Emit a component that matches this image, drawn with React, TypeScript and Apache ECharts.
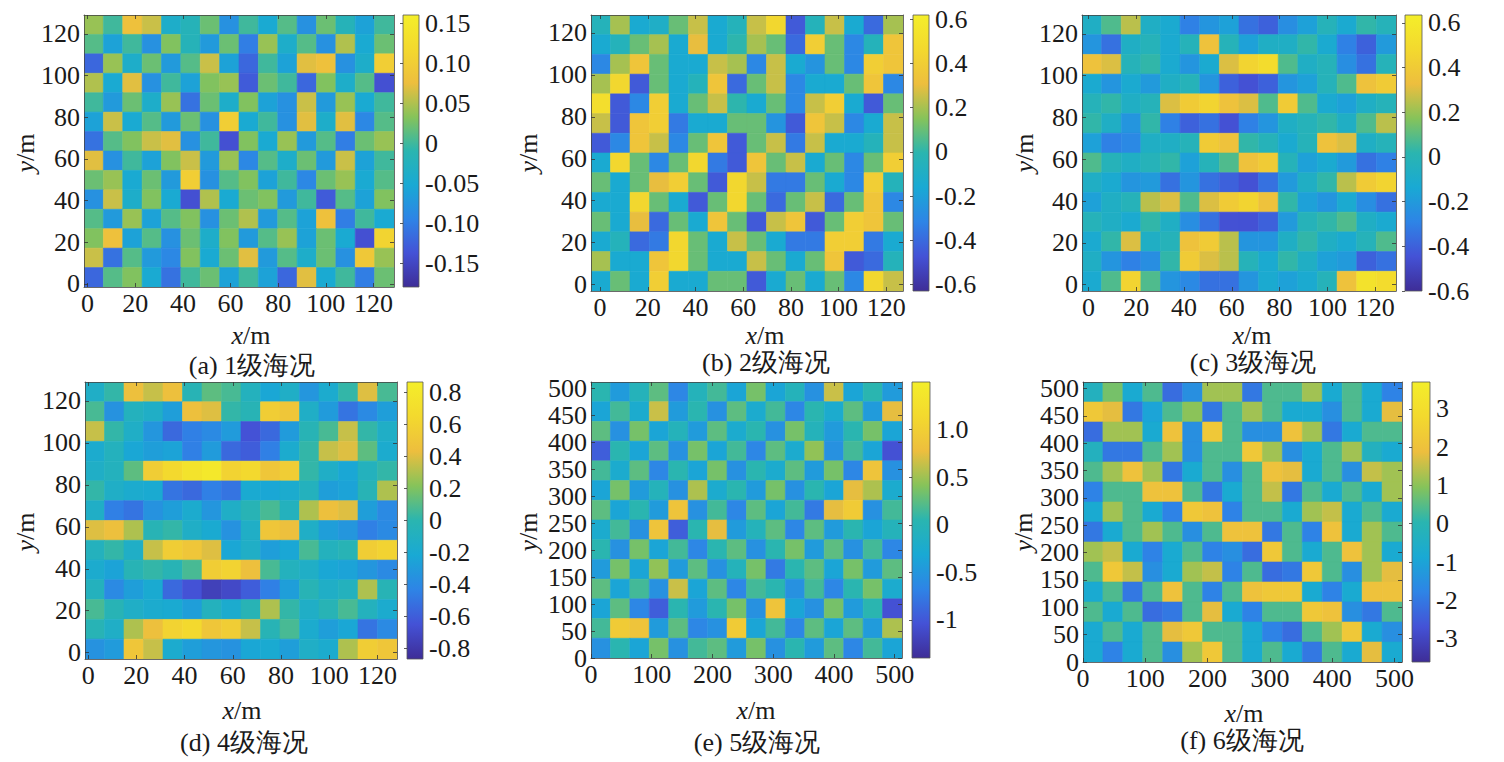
import React, { useRef, useEffect } from 'react';
import * as echarts from 'echarts';

// 波面高程 (m)，按 16 列 × 14 行从图中估读，第一行对应图的最上方
const seaA = [
  [0.04, 0.00, 0.08, 0.06, -0.04, -0.02, 0.02, -0.08, 0.00, -0.05, 0.01, -0.08, 0.02, -0.02, -0.06, 0.00],
  [0.01, -0.06, 0.00, -0.08, 0.03, -0.02, -0.07, 0.02, -0.10, 0.04, -0.04, 0.01, -0.08, 0.05, -0.05, 0.02],
  [-0.12, 0.04, -0.04, 0.02, -0.07, 0.01, 0.06, -0.06, -0.12, 0.00, -0.06, 0.07, 0.08, -0.08, -0.04, 0.10],
  [0.05, -0.05, 0.07, -0.08, 0.00, -0.06, 0.03, 0.04, -0.13, 0.02, 0.00, -0.12, 0.03, -0.04, 0.01, -0.14],
  [0.00, -0.07, 0.02, -0.04, 0.04, -0.11, 0.02, -0.04, 0.03, -0.06, -0.08, 0.06, -0.07, 0.04, -0.05, 0.00],
  [-0.06, 0.06, -0.05, 0.01, -0.07, 0.02, -0.08, 0.10, -0.05, 0.00, -0.08, 0.07, -0.04, 0.07, -0.09, 0.01],
  [-0.11, 0.01, 0.03, 0.06, 0.07, -0.08, 0.00, -0.14, 0.03, -0.05, 0.04, -0.07, 0.01, -0.10, 0.02, 0.04],
  [0.07, -0.08, 0.00, -0.06, 0.03, 0.06, -0.07, 0.04, -0.09, 0.01, -0.04, 0.02, -0.07, 0.06, -0.06, 0.00],
  [0.02, 0.04, -0.05, 0.02, -0.07, 0.10, -0.08, 0.01, 0.03, -0.06, 0.00, -0.09, 0.02, 0.04, -0.05, 0.01],
  [-0.08, 0.06, -0.04, 0.03, -0.05, -0.14, 0.05, -0.05, 0.02, 0.03, -0.07, 0.00, -0.13, 0.01, -0.06, 0.03],
  [0.01, -0.07, 0.04, -0.06, 0.01, 0.03, -0.08, 0.02, 0.05, -0.07, 0.01, -0.06, 0.08, -0.10, 0.00, -0.05],
  [0.03, 0.08, -0.06, 0.01, -0.08, 0.02, -0.04, 0.03, -0.07, 0.01, 0.04, -0.06, 0.02, -0.05, -0.14, 0.11],
  [0.06, -0.11, 0.01, -0.07, -0.09, 0.03, -0.05, 0.02, 0.07, -0.07, 0.01, -0.04, 0.02, -0.08, 0.09, 0.04],
  [-0.12, 0.01, 0.03, -0.05, -0.11, 0.00, 0.02, -0.06, 0.00, -0.06, -0.12, 0.07, -0.05, 0.00, -0.10, 0.02],
];

const seaB = [
  [-0.05, 0.20, -0.15, -0.10, 0.10, 0.25, -0.15, -0.05, 0.25, 0.45, -0.45, -0.05, 0.25, -0.15, -0.40, 0.20],
  [-0.15, -0.05, 0.10, 0.20, -0.15, 0.30, -0.15, 0.00, 0.20, 0.10, -0.40, 0.40, 0.10, -0.30, -0.05, 0.35],
  [-0.30, 0.20, 0.35, 0.10, -0.15, -0.15, 0.25, 0.20, -0.30, 0.25, -0.15, -0.25, 0.10, -0.30, 0.40, 0.35],
  [0.20, 0.45, -0.45, 0.10, -0.15, -0.05, 0.35, -0.40, 0.10, 0.25, -0.30, -0.15, -0.15, 0.10, 0.35, -0.30],
  [0.50, -0.45, -0.30, 0.40, -0.15, 0.10, 0.25, 0.00, -0.15, 0.10, -0.30, 0.25, 0.40, -0.15, -0.45, 0.10],
  [0.25, -0.45, 0.35, 0.40, -0.35, -0.15, -0.15, 0.10, 0.10, -0.25, -0.45, 0.35, 0.25, -0.30, -0.15, 0.25],
  [-0.45, -0.30, 0.35, 0.25, -0.30, 0.10, 0.35, -0.45, 0.10, 0.25, -0.35, 0.25, -0.15, -0.15, -0.05, 0.25],
  [-0.15, 0.45, 0.10, -0.30, 0.10, 0.45, -0.35, -0.45, 0.35, 0.10, 0.25, -0.15, 0.10, -0.30, 0.10, 0.40],
  [0.10, -0.15, 0.10, 0.30, 0.40, 0.10, -0.45, 0.45, 0.25, -0.35, -0.35, 0.10, -0.15, -0.30, 0.40, -0.05],
  [-0.15, -0.15, 0.45, 0.10, -0.15, -0.45, 0.10, 0.45, 0.10, -0.40, 0.10, 0.25, -0.40, 0.10, 0.35, -0.30],
  [0.10, -0.15, 0.30, -0.40, 0.10, -0.15, 0.35, 0.10, -0.45, 0.25, 0.35, -0.45, 0.10, 0.40, 0.35, 0.10],
  [-0.15, -0.05, -0.40, -0.35, 0.45, 0.10, -0.15, 0.25, 0.10, -0.15, -0.35, -0.35, 0.40, 0.40, -0.35, -0.15],
  [0.20, -0.15, -0.15, 0.35, 0.45, 0.10, -0.15, -0.15, 0.25, 0.10, -0.15, 0.10, 0.35, -0.45, -0.40, -0.05],
  [-0.15, 0.10, -0.15, 0.40, -0.15, -0.15, 0.10, 0.10, -0.45, -0.15, 0.10, -0.15, 0.10, -0.30, 0.45, 0.25],
];

const seaC = [
  [-0.07, 0.08, 0.25, -0.07, -0.12, -0.30, -0.22, -0.17, -0.35, -0.40, -0.25, -0.17, -0.02, -0.12, 0.03, -0.02],
  [-0.22, -0.35, -0.07, -0.02, -0.12, -0.02, 0.35, -0.02, -0.17, -0.07, -0.07, 0.03, -0.12, -0.30, -0.40, -0.20],
  [0.35, 0.30, -0.02, 0.03, -0.12, -0.22, -0.12, 0.30, 0.45, 0.50, 0.08, -0.07, -0.02, -0.25, -0.35, -0.02],
  [-0.12, -0.22, -0.12, -0.20, -0.07, -0.02, -0.22, -0.40, -0.45, -0.40, -0.22, -0.17, -0.02, 0.08, 0.35, 0.40],
  [-0.02, 0.03, -0.07, -0.02, 0.30, 0.40, 0.45, 0.35, 0.30, 0.08, 0.40, 0.08, -0.12, -0.17, -0.07, -0.02],
  [0.03, -0.07, -0.22, 0.03, -0.30, -0.40, -0.35, -0.45, -0.30, -0.22, -0.07, -0.02, 0.03, -0.07, 0.08, 0.25],
  [-0.17, -0.30, -0.27, -0.07, -0.07, -0.02, 0.40, 0.35, 0.03, -0.02, -0.12, -0.02, 0.35, 0.30, -0.07, -0.02],
  [0.08, -0.02, -0.07, -0.02, 0.03, -0.17, -0.02, 0.08, 0.35, 0.40, -0.02, -0.17, -0.12, -0.20, -0.35, -0.30],
  [-0.07, -0.12, -0.22, -0.20, -0.35, -0.22, -0.35, -0.40, -0.45, -0.35, -0.20, -0.07, 0.03, 0.25, 0.40, 0.45],
  [-0.17, -0.07, -0.02, 0.25, 0.30, 0.08, 0.30, 0.40, 0.45, 0.35, 0.03, -0.17, -0.22, -0.12, -0.25, -0.35],
  [-0.02, -0.07, -0.12, 0.03, -0.07, -0.25, -0.35, -0.45, -0.45, -0.40, -0.20, -0.02, 0.03, 0.08, -0.07, -0.12],
  [-0.12, 0.03, 0.30, -0.07, -0.02, 0.35, 0.40, 0.25, -0.22, -0.22, -0.07, 0.03, -0.07, -0.12, -0.02, 0.08],
  [-0.07, -0.22, -0.30, -0.25, 0.03, 0.40, 0.30, 0.25, -0.02, -0.12, 0.03, -0.07, -0.17, -0.20, -0.40, -0.35],
  [-0.12, 0.08, 0.45, 0.08, -0.22, -0.27, -0.35, -0.35, -0.22, -0.12, -0.17, -0.12, -0.02, 0.35, 0.55, 0.50],
];

const seaD = [
  [-0.13, 0.02, 0.45, 0.35, 0.45, -0.03, 0.12, 0.07, -0.08, -0.23, -0.13, -0.33, -0.18, 0.02, 0.40, 0.07],
  [0.07, -0.35, -0.08, -0.13, -0.28, 0.45, 0.40, 0.02, -0.03, 0.55, 0.50, -0.13, -0.30, -0.50, -0.40, -0.28],
  [0.35, 0.02, -0.13, -0.33, -0.55, -0.45, -0.40, -0.30, -0.65, -0.55, -0.30, -0.03, 0.07, 0.35, 0.02, -0.13],
  [-0.18, -0.08, -0.23, -0.28, -0.25, -0.45, -0.30, -0.55, -0.60, -0.45, -0.18, 0.02, 0.35, 0.40, 0.12, -0.18],
  [-0.13, -0.08, 0.12, 0.55, 0.65, 0.75, 0.80, 0.60, 0.65, 0.50, 0.55, 0.02, -0.13, -0.23, -0.08, 0.02],
  [0.02, -0.13, -0.18, -0.20, -0.50, -0.55, -0.45, -0.50, -0.20, -0.23, -0.18, -0.08, -0.28, -0.25, -0.03, 0.30],
  [-0.13, -0.45, -0.50, -0.35, -0.28, -0.18, -0.33, -0.13, -0.03, 0.07, -0.08, 0.30, 0.45, 0.40, -0.28, -0.40],
  [0.40, 0.45, 0.30, -0.03, 0.02, -0.13, -0.20, -0.35, -0.13, 0.50, 0.45, -0.13, -0.28, -0.33, -0.45, -0.40],
  [-0.08, 0.02, -0.13, 0.35, 0.55, 0.50, 0.40, -0.23, -0.13, -0.28, -0.23, 0.07, -0.08, -0.03, 0.55, 0.60],
  [-0.18, -0.25, -0.03, 0.02, -0.03, 0.07, 0.55, 0.60, 0.45, 0.07, -0.08, -0.13, -0.23, -0.25, -0.33, -0.40],
  [-0.08, -0.40, -0.28, -0.20, -0.55, -0.65, -0.75, -0.70, -0.60, -0.45, -0.28, -0.03, -0.13, -0.08, 0.30, -0.03],
  [0.07, -0.03, -0.13, -0.18, -0.20, -0.28, -0.08, -0.18, -0.03, 0.30, 0.02, -0.13, -0.03, 0.07, -0.08, -0.18],
  [-0.03, -0.13, 0.30, 0.45, 0.60, 0.65, 0.50, 0.55, 0.35, -0.03, 0.07, -0.18, -0.28, -0.23, -0.50, -0.40],
  [-0.35, -0.30, 0.50, 0.35, -0.18, -0.28, -0.33, -0.35, -0.23, -0.20, -0.28, -0.13, -0.18, 0.30, 0.55, 0.50],
];

const seaE = [
  [0.05, -0.45, -0.05, 0.25, -0.65, -0.05, 0.15, -0.35, 0.35, -0.35, -0.05, -0.55, 0.65, -0.35, 0.05, -0.45],
  [-0.35, 0.15, -0.25, 0.65, -0.45, 0.05, -0.55, 0.25, -0.25, 0.15, -0.65, 0.05, -0.25, 0.25, -0.45, 0.75],
  [0.25, -0.55, 0.35, -0.35, -0.05, -0.45, 0.25, -0.25, 0.05, -0.55, 0.35, -0.05, -0.45, 0.05, 0.35, -0.35],
  [-0.95, 0.05, -0.35, 0.25, -0.55, 0.35, -0.35, 0.15, -0.65, 0.25, -0.25, 0.45, -0.55, 0.15, -0.35, -1.05],
  [0.15, -0.25, 0.25, -0.65, 0.05, -0.35, 0.35, -0.55, 0.05, -0.25, 0.25, -0.45, 0.35, -0.65, 0.85, -0.55],
  [-0.35, 0.35, -0.45, -0.05, -0.55, 0.55, -0.25, 0.05, -0.45, 0.35, -0.55, 0.05, -0.35, 0.75, 0.55, -0.25],
  [0.25, -0.35, 0.05, -0.45, 0.85, -0.55, 0.15, -0.65, 0.25, -0.35, 0.15, -0.75, 0.75, 0.95, -0.55, 0.15],
  [-0.25, 0.15, -0.55, 0.85, -0.95, 0.05, 0.75, -0.45, -0.05, 0.25, -0.65, 0.25, -0.45, 0.05, -0.35, -0.05],
  [0.05, -0.55, 0.35, -0.35, 0.15, -0.65, 0.05, 0.25, -0.55, 0.05, 0.35, -0.45, 0.25, -0.55, 0.15, -0.65],
  [-0.45, 0.35, -0.35, 0.45, -0.45, 0.25, -0.55, -0.05, 0.35, -0.75, 0.05, 0.25, -0.35, 0.35, -0.45, 0.25],
  [0.25, -0.35, 0.15, -0.55, 0.65, -0.35, 0.25, -0.65, 0.15, 0.05, -0.55, 0.15, -0.65, 0.05, 0.35, -0.25],
  [-0.35, 0.25, -0.65, -0.95, 0.05, -0.45, 0.05, 0.35, -0.55, 0.85, -0.35, -0.55, 0.35, -0.45, 0.05, -1.05],
  [0.15, 0.95, 0.85, -0.45, 0.25, -0.65, -0.55, 0.95, -0.35, 0.15, -0.65, 0.25, -0.35, 0.25, -0.45, 0.55],
  [-0.55, 0.05, -0.35, 0.35, -0.55, 0.15, 0.25, -0.45, 0.35, -0.55, 0.05, -0.45, 0.25, -0.65, 0.15, -0.35],
];

const seaF = [
  [-0.3, 0.8, -0.8, 0.4, -2.2, -1.5, 1.2, 1.2, -2.0, 0.4, 0.4, 1.2, -0.8, 0.4, -0.8, -1.8],
  [2.2, 1.8, -2.0, -1.0, 0.4, 1.0, -2.0, 0.4, 1.2, 0.4, -0.8, -0.8, -1.5, 0.4, -0.8, 1.8],
  [-2.2, 1.2, 1.2, -0.8, 2.0, -1.5, 2.2, 0.4, -1.5, -1.5, 2.0, 1.2, -2.0, -0.8, 0.4, 0.4],
  [-0.3, -2.0, -2.0, 0.4, 1.2, -1.5, 0.4, 0.4, 2.2, 1.2, -1.5, -0.8, 0.4, 1.2, -0.3, -0.8],
  [0.4, 1.2, 2.0, 1.2, -2.0, -0.8, 0.4, -1.5, 0.4, 2.0, 1.8, -0.8, 0.4, -1.5, 1.5, 1.2],
  [-1.8, 0.4, 0.4, 2.0, 2.0, 0.4, -2.0, -0.8, 0.4, 1.5, -2.0, 0.4, -0.8, 0.4, -0.8, 1.2],
  [-0.8, 1.2, 0.4, -0.8, -1.8, 2.2, 2.0, -1.8, 0.4, 0.4, -0.8, 1.2, 1.5, -0.8, 0.4, -0.8],
  [-2.0, -0.8, 0.4, 1.2, 0.4, -1.5, 0.4, 2.0, 2.0, -2.0, 0.4, -1.8, 2.0, -0.8, 1.2, 0.4],
  [1.2, 1.5, -0.8, -1.8, -0.8, 0.4, -1.8, -1.5, -2.2, 2.2, 0.4, -0.8, 0.4, 2.0, 1.2, -0.8],
  [0.4, 2.2, 1.5, -1.5, -0.8, 1.2, 1.5, -1.8, 0.4, -2.2, -2.0, 2.2, 0.4, -1.5, 1.2, 1.8],
  [-0.8, 0.4, -2.0, 0.4, 2.0, 0.4, -1.8, 0.4, 2.0, 2.2, 2.2, -0.8, -1.8, -0.8, 2.0, 2.0],
  [0.4, -0.8, 0.4, -2.2, -2.0, 0.4, 1.8, -0.8, -1.8, 0.4, 0.4, 2.2, 2.0, -1.5, -2.0, 0.4],
  [-0.8, 0.4, -0.8, 0.4, 1.8, 2.2, 0.4, 0.4, -0.8, -1.8, -2.2, 0.4, 1.2, 2.2, -0.8, -1.5],
  [-0.8, -1.8, -0.8, 0.4, -1.5, 1.2, 2.2, 0.4, -0.8, 0.4, -0.8, -2.0, 0.4, -0.8, 1.8, -0.8],
];

const captions = ['(a) 1级海况', '(b) 2级海况', '(c) 3级海况', '(d) 4级海况', '(e) 5级海况', '(f) 6级海况'];

// 坐标轴刻度
const ticks128 = [0, 20, 40, 60, 80, 100, 120];
const ticks512x = [0, 100, 200, 300, 400, 500];
const ticks512y = [0, 50, 100, 150, 200, 250, 300, 350, 400, 450, 500];

// 色标刻度及其文字
const barTicksA = [-0.15, -0.1, -0.05, 0, 0.05, 0.1, 0.15];
const barLabelsA = ['-0.15', '-0.10', '-0.05', '0', '0.05', '0.10', '0.15'];
const barTicksB = [-0.6, -0.4, -0.2, 0, 0.2, 0.4, 0.6];
const barLabelsB = ['-0.6', '-0.4', '-0.2', '0', '0.2', '0.4', '0.6'];
const barTicksD = [-0.8, -0.6, -0.4, -0.2, 0, 0.2, 0.4, 0.6, 0.8];
const barLabelsD = ['-0.8', '-0.6', '-0.4', '-0.2', '0', '0.2', '0.4', '0.6', '0.8'];
const barTicksE = [-1, -0.5, 0, 0.5, 1];
const barLabelsE = ['-1', '-0.5', '0', '0.5', '1.0'];
const barTicksF = [-3, -2, -1, 0, 1, 2, 3];
const barLabelsF = ['-3', '-2', '-1', '0', '1', '2', '3'];

const parula = ['#3E2D97', '#4452D6', '#2E84E6', '#19A9D4', '#2AB5B0', '#86C35A', '#EDBE3E', '#F3D92E', '#F4EE2A'];
const serif = 'Times New Roman, Liberation Serif, DejaVu Serif, serif';
const ink = '#1a1a1a';
const FS = 26;

const panels = [
  { field: seaA, xr: [-1.5, 128.6], yr: [-1.5, 129], xt: ticks128, yt: ticks128, bar: [-0.18, 0.16], bt: barTicksA, bl: barLabelsA,
    plot: [84, 15, 310, 272], cb: [403, 16], xName: [251, 335], yName: [25, 153], cap: [252, 365] },
  { field: seaB, xr: [-3.8, 127], yr: [-3, 128.5], xt: ticks128, yt: ticks128, bar: [-0.63, 0.62], bt: barTicksB, bl: barLabelsB,
    plot: [591, 15, 312, 276], cb: [913, 16], xName: [765, 335], yName: [528, 153], cap: [766, 362] },
  { field: seaC, xr: [-2.7, 128.7], yr: [-3, 129], xt: ticks128, yt: ticks128, bar: [-0.6, 0.635], bt: barTicksB, bl: barLabelsB,
    plot: [1082, 15, 314, 276], cb: [1405, 17], xName: [1252, 335], yName: [1024, 153], cap: [1253, 362] },
  { field: seaD, xr: [-1.3, 128.1], yr: [-3, 129], xt: ticks128, yt: ticks128, bar: [-0.865, 0.865], bt: barTicksD, bl: barLabelsD,
    plot: [85, 382, 312, 277], cb: [407, 16], xName: [242, 710], yName: [25, 532], cap: [244, 742] },
  { field: seaE, xr: [0, 512], yr: [0, 512], xt: ticks512x, yt: ticks512y, bar: [-1.4, 1.5], bt: barTicksE, bl: barLabelsE,
    plot: [591, 382, 311, 276], cb: [912, 18], xName: [756, 710], yName: [528, 532], cap: [757, 742] },
  { field: seaF, xr: [0, 512], yr: [0, 512], xt: ticks512x, yt: ticks512y, bar: [-3.61, 3.7], bt: barTicksF, bl: barLabelsF,
    plot: [1083, 382, 319, 280], cb: [1412, 18], xName: [1244, 713], yName: [1023, 532], cap: [1242, 740] },
];

function toCells(field: number[][], xr: number[], yr: number[]) {
  const rows = field.length;
  const cols = field[0].length;
  const dx = (xr[1] - xr[0]) / cols;
  const dy = (yr[1] - yr[0]) / rows;
  const data: number[][] = [];
  field.forEach((row, r) =>
    row.forEach((v, c) => data.push([xr[0] + (c + 0.5) * dx, yr[1] - (r + 0.5) * dy, v]))
  );
  return { data, dx, dy };
}

function buildOption() {
  const grid: any[] = [];
  const xAxis: any[] = [];
  const yAxis: any[] = [];
  const series: any[] = [];
  const visualMap: any[] = [];
  const graphic: any[] = [];

  const tickStyle = { color: '#333', width: 0.8 };
  const lineStyle = { color: '#444', width: 0.8 };
  const labelStyle = { color: ink, fontSize: FS, fontFamily: serif };
  const gradient = new echarts.graphic.LinearGradient(
    0, 1, 0, 0,
    parula.map((c, k) => ({ offset: k / (parula.length - 1), color: c }))
  );

  panels.forEach((p, i) => {
    const [left, top, width, height] = p.plot;
    grid.push({ left, top, width, height });
    grid.push({ left: p.cb[0], top, width: p.cb[1], height });

    const gPlot = 2 * i;
    const gBar = 2 * i + 1;
    const axisBase = (gridIndex: number, r: number[], ticks: number[]) => ({
      type: 'value', gridIndex, min: r[0], max: r[1], z: 10,
      splitLine: { show: false },
      axisLine: { show: true, onZero: false, lineStyle },
      axisTick: { show: true, inside: true, length: 4, lineStyle: tickStyle, customValues: ticks },
    });

    xAxis.push({
      ...axisBase(gPlot, p.xr, p.xt), position: 'bottom',
      axisLabel: { ...labelStyle, margin: 3, customValues: p.xt },
    });
    xAxis.push({ ...axisBase(gPlot, p.xr, p.xt), position: 'top', axisLabel: { show: false } });
    xAxis.push({ type: 'value', gridIndex: gBar, min: 0, max: 1, show: false });

    yAxis.push({
      ...axisBase(gPlot, p.yr, p.yt), position: 'left',
      axisLabel: { ...labelStyle, margin: 4, customValues: p.yt },
    });
    yAxis.push({ ...axisBase(gPlot, p.yr, p.yt), position: 'right', axisLabel: { show: false } });
    yAxis.push({
      type: 'value', gridIndex: gBar, min: p.bar[0], max: p.bar[1], position: 'right', z: 10,
      splitLine: { show: false },
      axisLine: { show: false },
      axisTick: { show: true, inside: true, length: 3, lineStyle: tickStyle, customValues: p.bt },
      axisLabel: {
        ...labelStyle, margin: 6, customValues: p.bt,
        formatter: (v: number) => {
          const k = p.bt.findIndex((t) => Math.abs(t - v) < 1e-9);
          return k >= 0 ? p.bl[k] : '';
        },
      },
    });

    const cells = toCells(p.field, p.xr, p.yr);
    series.push({
      type: 'custom',
      xAxisIndex: 3 * i,
      yAxisIndex: 3 * i,
      clip: true,
      dimensions: ['x', 'y', 'eta'],
      encode: { x: 0, y: 1 },
      data: cells.data,
      renderItem: (_params: any, api: any) => {
        const c = api.coord([api.value(0), api.value(1)]);
        const s = api.size([cells.dx, cells.dy]);
        const color = api.visual('color');
        return {
          type: 'rect',
          shape: { x: c[0] - s[0] / 2, y: c[1] - s[1] / 2, width: s[0], height: s[1] },
          style: { fill: color, stroke: color, lineWidth: 0.6 },
        };
      },
    });
    series.push({
      type: 'custom',
      xAxisIndex: 3 * i + 2,
      yAxisIndex: 3 * i + 2,
      clip: false,
      data: [[0, p.bar[0], 1, p.bar[1]]],
      renderItem: (_params: any, api: any) => {
        const a = api.coord([api.value(0), api.value(1)]);
        const b = api.coord([api.value(2), api.value(3)]);
        return {
          type: 'rect',
          shape: { x: a[0], y: b[1], width: b[0] - a[0], height: a[1] - b[1] },
          style: { fill: gradient, stroke: '#555', lineWidth: 0.8 },
        };
      },
    });

    visualMap.push({
      type: 'continuous', show: false, seriesIndex: 2 * i, dimension: 2,
      min: p.bar[0], max: p.bar[1], inRange: { color: parula },
    });

    const textStyle = {
      fontSize: FS, fontFamily: serif, fill: ink,
      align: 'center', verticalAlign: 'middle', textAlign: 'center', textVerticalAlign: 'middle',
      rich: { i: { fontStyle: 'italic', fontSize: FS, fontFamily: serif, fill: ink } },
    };
    graphic.push({ type: 'text', x: p.xName[0], y: p.xName[1], style: { ...textStyle, text: '{i|x}/m' } });
    graphic.push({ type: 'text', x: p.yName[0], y: p.yName[1], rotation: Math.PI / 2, style: { ...textStyle, text: '{i|y}/m' } });
    graphic.push({ type: 'text', x: p.cap[0], y: p.cap[1], style: { ...textStyle, text: captions[i] } });
  });

  return { animation: false, backgroundColor: '#fff', grid, xAxis, yAxis, series, visualMap, graphic };
}

export default function App() {
  const ref = useRef<HTMLDivElement>(null);

  useEffect(() => {
    if (!ref.current) return;
    const chart = echarts.init(ref.current, undefined, { renderer: 'svg' });
    chart.setOption(buildOption() as any);
    return () => chart.dispose();
  }, []);

  return (
    <div
      ref={ref}
      style={{ position: 'absolute', left: 0, top: 0, width: 1504, height: 762, background: '#fff' }}
    />
  );
}
